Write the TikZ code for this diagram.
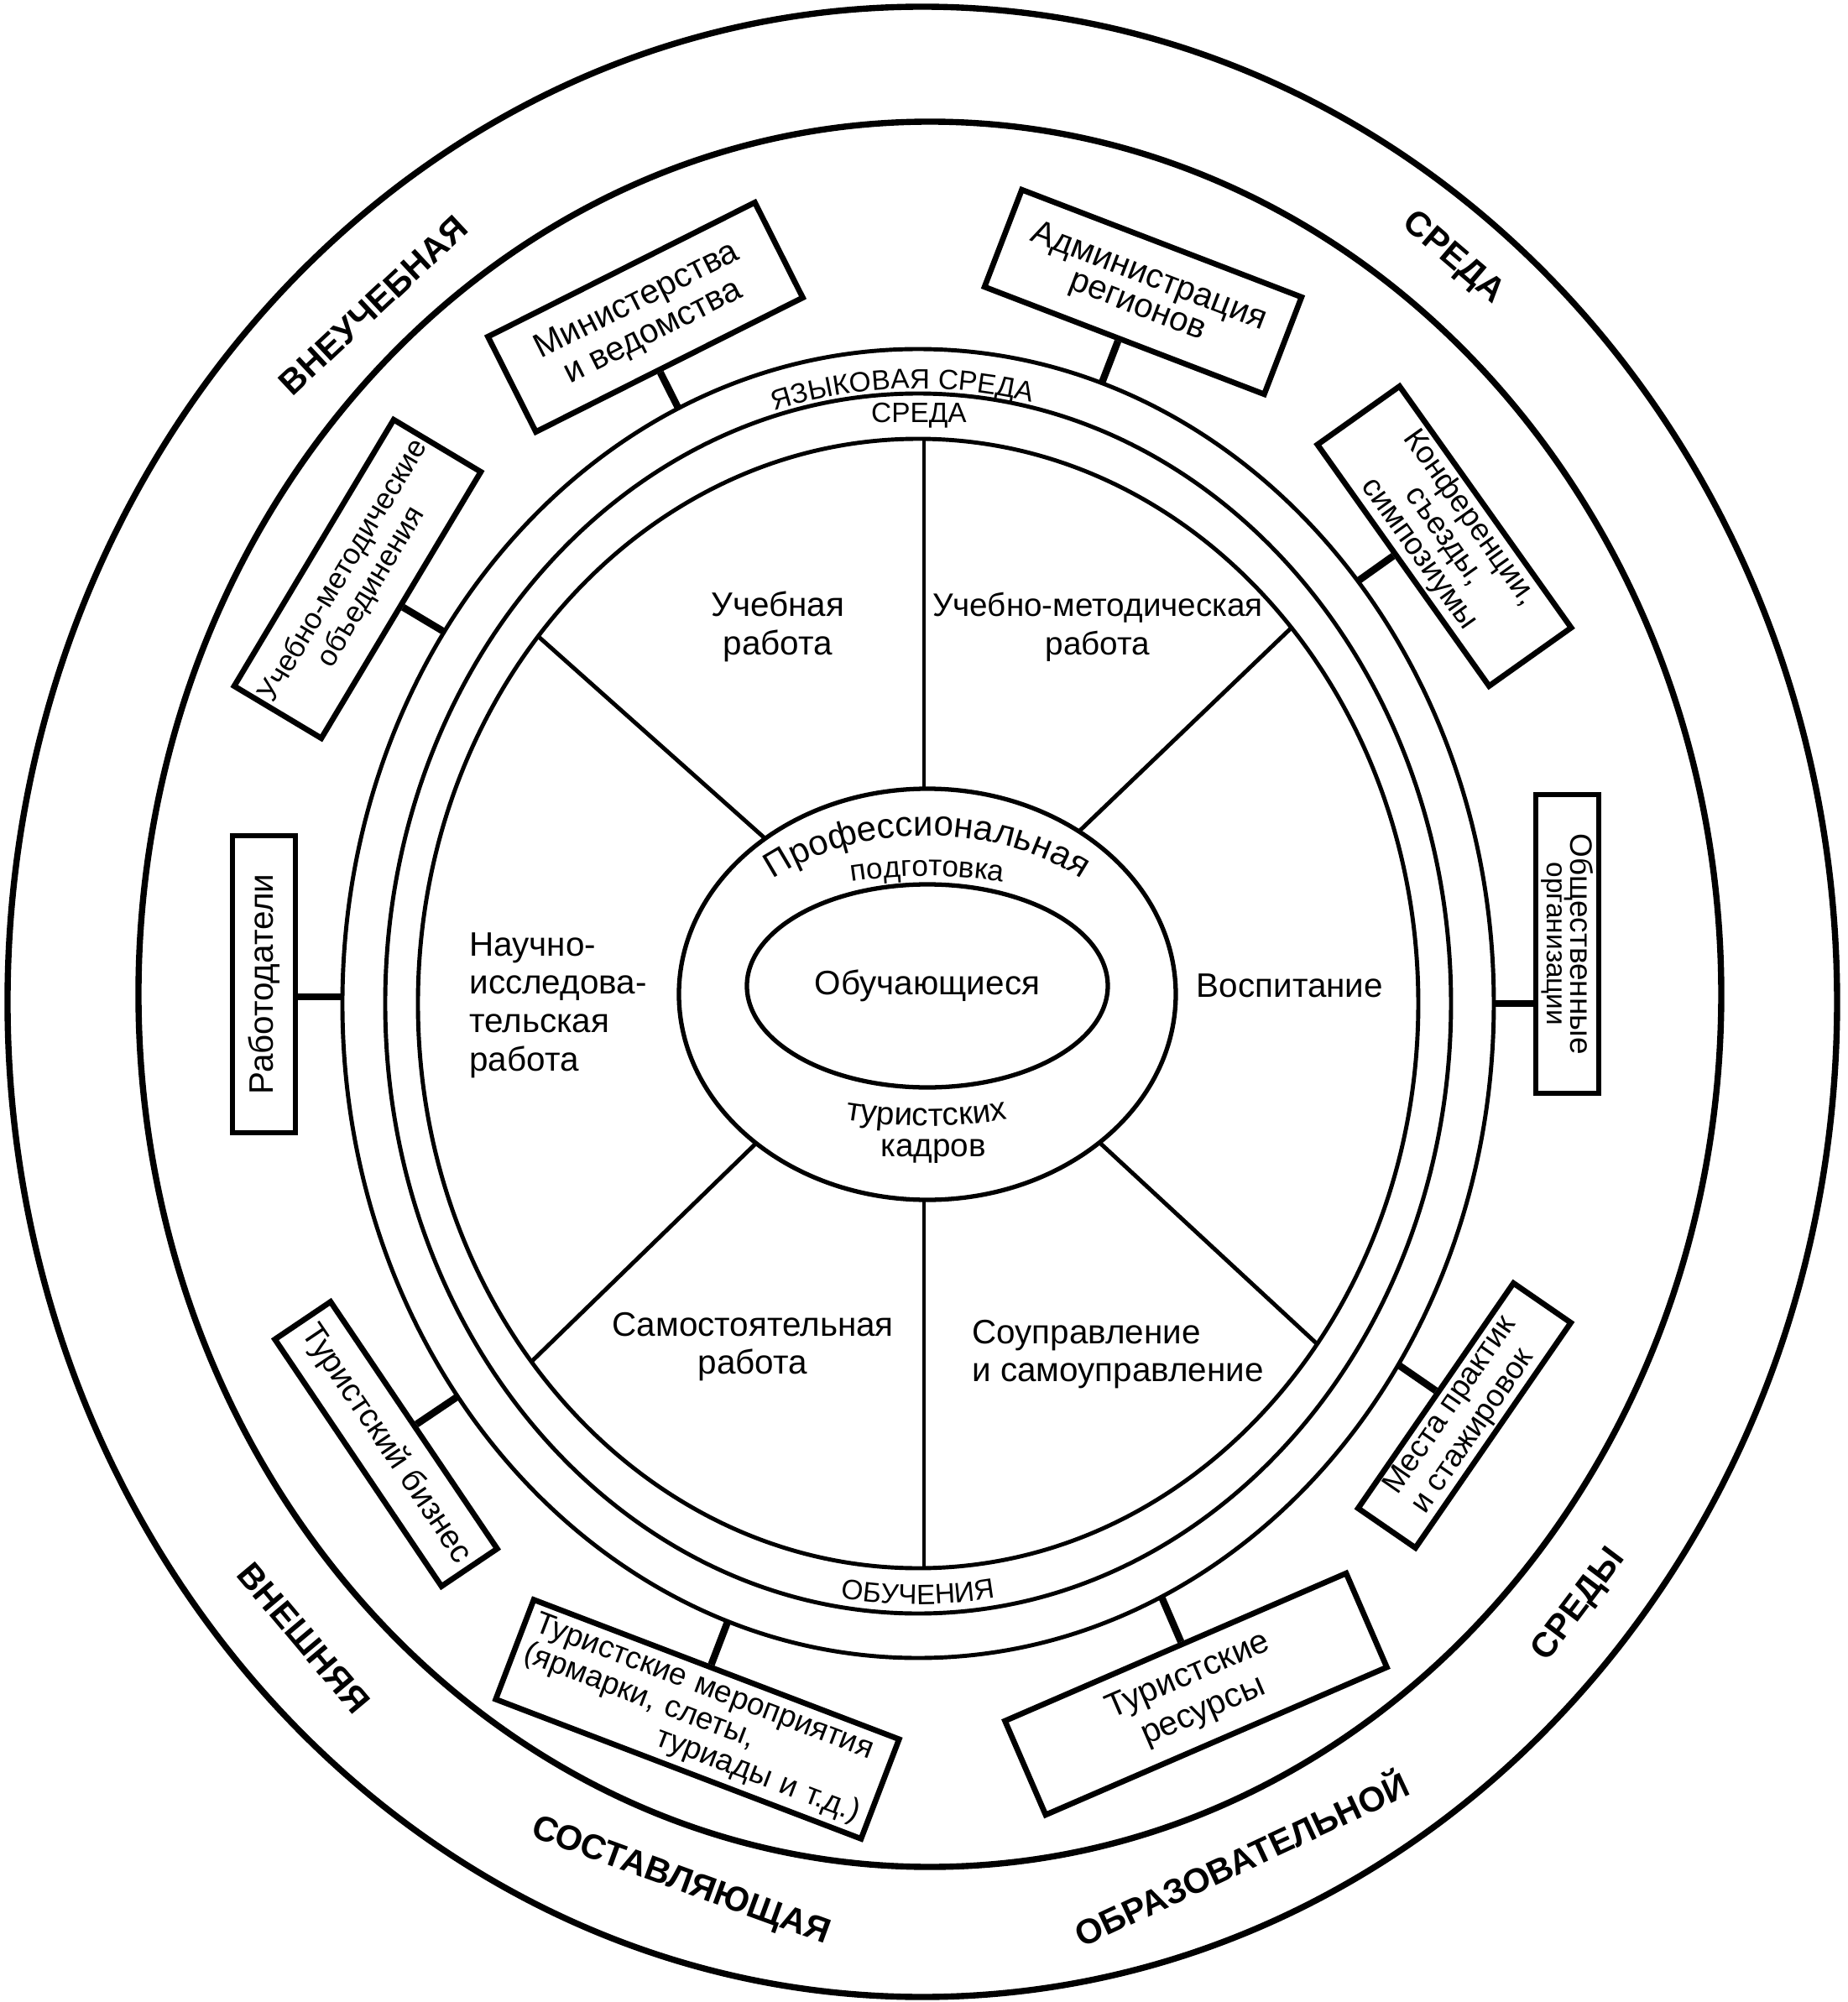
\documentclass[tikz,border=0pt]{standalone}
\usepackage{fontspec}
\setmainfont{Liberation Sans}
\usetikzlibrary{calc,shapes.geometric,decorations.text}

\tikzset{
  box/.style={draw, line width=1.9pt, align=center, inner sep=1pt, font=\fontsize{11}{12}\selectfont},
  link/.style={line width=2.4pt},
  ring/.style={line width=1.4pt},
  sector/.style={font=\fontsize{11.5}{13}\selectfont, align=center},
  band/.style={font=\fontsize{11.8}{14}\selectfont\bfseries},
  curved/.style={decorate, decoration={text along path, text align=center, text={#1}}}
}

\begin{document}
\begin{tikzpicture}
\useasboundingbox (-11,-11.93) rectangle (11.01,11.93);

% outer environment
\draw[line width=2.1pt] (-0.01,-0.01) ellipse [x radius=10.9, y radius=11.86];
\draw[line width=2.1pt] (0.08,0.08) ellipse [x radius=9.43, y radius=10.4];
\node[band, rotate=43] (vneuch) at (-6.55,8.29) {ВНЕУЧЕБНАЯ};
\node[band, rotate=-40.5] (sreda) at (6.31,8.85) {СРЕДА};
\node[band, rotate=-50] (vnesh) at (-7.38,-7.59) {ВНЕШНЯЯ};
\node[band, rotate=-20] (sostav) at (-2.89,-10.5) {СОСТАВЛЯЮЩАЯ};
\node[band, rotate=25] (obraz) at (3.78,-10.2) {ОБРАЗОВАТЕЛЬНОЙ};
\node[band, rotate=53] (sredy) at (7.82,-7.2) {СРЕДЫ};

% rings
\coordinate (R) at (-0.06,-0.03);
\draw[ring] (R) ellipse [x radius=6.86, y radius=7.8];
\draw[ring] (R) ellipse [x radius=6.35, y radius=7.27];
\draw[ring] (R) ellipse [x radius=5.96, y radius=6.73];
\path[curved={|\fontsize{9.5}{10}\selectfont|ЯЗЫКОВАЯ СРЕДА}]
  ($(R)+(121.6:6.43cm and 7.33cm)$) arc [start angle=121.6, end angle=61.6, x radius=6.43, y radius=7.33];
\node[font=\fontsize{9.5}{10}\selectfont] (sredaob) at (-0.05,6.98) {СРЕДА};
\path[curved={|\fontsize{9.5}{10}\selectfont|ОБУЧЕНИЯ}]
  ($(R)+(250:6.27cm and 7.16cm)$) arc [start angle=250, end angle=290, x radius=6.27, y radius=7.16];

% spokes
\coordinate (O) at (0.01,0.25);
\begin{scope}
  \clip (R) ellipse [x radius=5.96, y radius=6.73];
  \foreach \a in {90,270,43.8,138.3,224.2,317.2}
    \draw[line width=1.4pt] (O) -- ++(\a:9);
\end{scope}

% core
\node[draw, ellipse, line width=1.5pt, fill=white, minimum width=5.92cm, minimum height=4.9cm] (prof) at (0.05,0.08) {};
\node[draw, ellipse, line width=1.5pt, minimum width=4.3cm, minimum height=2.42cm, sector] (stud) at (0.05,0.18) {Обучающиеся};
\path[curved={|\fontsize{12}{12}\selectfont|Профессиональная}]
  ($(prof.center)+(175:2.67cm and 1.89cm)$) arc [start angle=175, end angle=5, x radius=2.67, y radius=1.89];
\path[curved={|\fontsize{10}{10}\selectfont|подготовка}]
  (0.05,-4.46) ++(105:5.95) arc [start angle=105, end angle=75, radius=5.95];
\path[curved={|\fontsize{11}{11}\selectfont|туристских}]
  (0.04,4.43) ++(255:5.92) arc [start angle=255, end angle=285, radius=5.92];
\node[font=\fontsize{11}{12}\selectfont] (kadr) at (0.12,-1.79) {кадров};

% sectors
\node[sector] (ucheb) at (-1.73,4.46) {Учебная\\работа};
\node[sector, font=\fontsize{11}{13}\selectfont] (metod) at (2.08,4.46) {Учебно-методическая\\работа};
\node[sector, anchor=west, align=left] (nauch) at (-5.53,-0.05) {Научно-\\исследова-\\тельская\\работа};
\node[sector] (vosp) at (4.37,0.18) {Воспитание};
\node[sector] (samost) at (-2.03,-4.12) {Самостоятельная\\работа};
\node[sector, anchor=west, align=left] (soupr) at (0.46,-4.21) {Соуправление\\и самоуправление};

% partners
\node[box, rotate=26.7, minimum width=3.56cm, minimum height=1.27cm, font=\fontsize{11.5}{12}\selectfont] (minist) at (-3.31,8.15) {Министерства\\и ведомства};
\node[box, rotate=-21, minimum width=3.57cm, minimum height=1.24cm, font=\fontsize{11.5}{10.5}\selectfont] (admin) at (2.62,8.45) {Администрация\\регионов};
\node[box, rotate=-54.6, minimum width=3.53cm, minimum height=1.2cm, font=\fontsize{10.5}{10.5}\selectfont] (konf) at (6.21,5.54) {Конференции,\\съезды,\\симпозиумы};
\node[box, rotate=59.1, minimum width=3.7cm, minimum height=1.21cm, font=\fontsize{10}{11}\selectfont] (umo) at (-6.74,5.03) {Учебно-методические\\объединения};
\node[box, rotate=90, minimum width=3.54cm, minimum height=0.75cm, font=\fontsize{11.5}{12}\selectfont] (rabot) at (-7.855,0.2) {Работодатели};
\node[box, rotate=-56, minimum width=3.55cm, minimum height=0.8cm] (bizn) at (-6.4,-5.28) {Туристский бизнес};
\node[box, rotate=-20.9, minimum width=4.66cm, minimum height=1.27cm, text width=4.4cm, align=left, font=\fontsize{10.5}{9.5}\selectfont] (merop) at (-2.69,-8.56)
  {Туристские мероприятия\\(ярмарки, слеты,\\\hspace*{0pt plus 1filll}туриады и т.д.)\hspace*{0.15cm}};
\node[box, rotate=23.4, minimum width=4.43cm, minimum height=1.22cm, font=\fontsize{11.5}{13}\selectfont] (resurs) at (3.25,-8.26) {Туристские\\ресурсы};
\node[box, rotate=55.4, minimum width=3.26cm, minimum height=0.83cm, align=left, font=\fontsize{10.5}{11.4}\selectfont] (mesta) at (6.45,-4.94) {Места практик\\и стажировок};
\node[box, rotate=-90, minimum width=3.56cm, minimum height=0.75cm, font=\fontsize{10.5}{8}\selectfont] (obsch) at (7.675,0.68) {Общественные\\{\fontsize{9.5}{8}\selectfont организации}};

\foreach \b/\t/\p/\q in {minist/114.6/south west/south east, admin/71.4/south west/south east,
    konf/40.2/south west/south east, umo/145.4/south west/south east, rabot/179.4/south west/south east,
    bizn/216.9/north west/north east, merop/250.7/north west/north east, resurs/295/north west/north east,
    mesta/326.5/north west/north east, obsch/0/south west/south east}
{
  \coordinate (r-\b) at ($(R)+(\t:6.86cm and 7.8cm)$);
  \draw[link] (r-\b) -- ($(\b.\p)!(r-\b)!(\b.\q)$);
}
\end{tikzpicture}
\end{document}
